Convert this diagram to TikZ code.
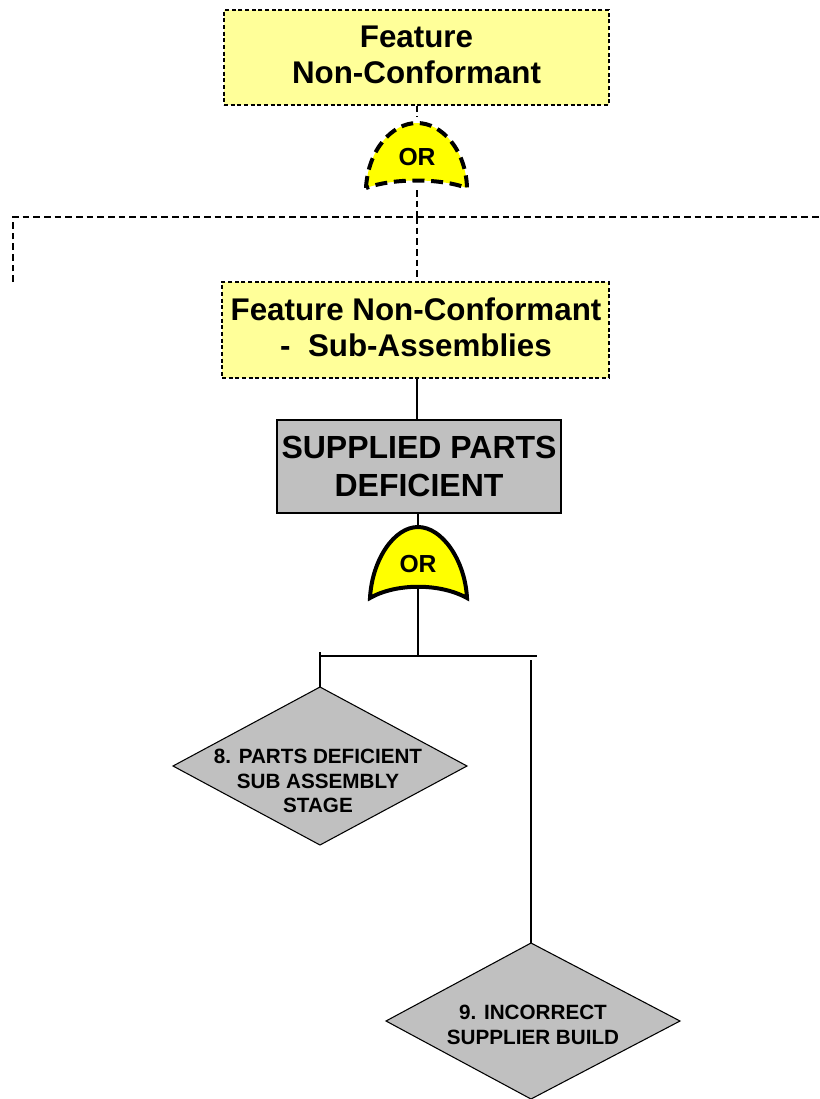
\documentclass[tikz,border=0pt]{standalone}
\usepackage{fontspec}
\setmainfont{Liberation Sans}
\definecolor{lyel}{HTML}{FFFF99}
\definecolor{gyel}{HTML}{FFFF00}
\definecolor{gr}{HTML}{C0C0C0}
\begin{document}
\begin{tikzpicture}[x=0.75pt,y=-0.75pt,
  ybox/.style={draw,fill=lyel,line width=0.8pt,dash pattern=on 3pt off 2pt,inner sep=0pt,font=\bfseries\fontsize{23.5}{27}\selectfont,align=center},
  gbox/.style={draw,fill=gr,line width=0.8pt,inner sep=0pt,font=\bfseries\fontsize{24}{28}\selectfont,align=center},
  diashape/.style={draw,fill=gr,line width=0.8pt},
  diatext/.style={inner sep=0pt,font=\bfseries\fontsize{15.5}{18.4}\selectfont,align=center},
  ortext/.style={inner sep=0pt,font=\bfseries\fontsize{18.5}{20}\selectfont},
  conn/.style={line width=1.1pt},
  dconn/.style={line width=1.1pt,dash pattern=on 5pt off 3pt},
  gate/.style={line width=3pt,fill=gyel}]
\useasboundingbox (0,0) rectangle (820,1099);
% top box
\node[ybox,minimum width=385*0.75pt,minimum height=95*0.75pt] (top) at (416.5,57.5) {};
\node[ybox,draw=none,fill=none] (toptext) at (416.5,55) {Feature\\Non-Conformant};
% dashed gate
\draw[gate,dash pattern=on 9pt off 5pt] (366,188) .. controls (368,150) and (392,123) .. (417,123) .. controls (442,123) and (466,150) .. (467,188) .. controls (440,178) and (393,178) .. cycle;
\node[ortext] (or1) at (417,157) {OR};
\coordinate (g1t) at (417,117);
\coordinate (g1b) at (417,190);
\draw[dconn] (top.south -| g1t) -- (g1t);
\coordinate (hl) at (13,217);
\coordinate (hr) at (820,217);
\coordinate (hm) at (417,217);
\coordinate (ll) at (13,282);
\draw[dconn] (g1b) -- (hm);
\draw[dconn] (ll) -- (hl) -- (hr);
% box 2
\node[ybox,minimum width=387*0.75pt,minimum height=96*0.75pt] (sub) at (415.5,330) {};
\node[ybox,draw=none,fill=none] (subtext) at (416,327) {Feature Non-Conformant\\-\ \ Sub-Assemblies};
\draw[dconn] (hm) -- (sub.north -| hm);
% box 3
\node[gbox,minimum width=284*0.75pt,minimum height=93*0.75pt] (sup) at (419,466.5) {SUPPLIED PARTS\\DEFICIENT};
\draw[conn] (sub.south -| hm) -- (sup.north -| hm);
% solid gate
\draw[gate] (370,598) .. controls (372,560) and (394,527) .. (418,527) .. controls (442,527) and (465,560) .. (467,598) .. controls (440,583) and (396,583) .. cycle;
\node[ortext] (or2) at (418,564) {OR};
\coordinate (g2t) at (418,527);
\coordinate (g2b) at (418,588);
\draw[conn] (sup.south -| g2t) -- (g2t);
\coordinate (bm) at (418,656);
\coordinate (bl) at (320,656);
\coordinate (br) at (537,656);
\draw[conn] (g2b) -- (bm);
\draw[conn] (bl) -- (br);
% diamonds
\coordinate (d8n) at (320,687);
\draw[diashape] (d8n) -- (467,766) -- (320,845) -- (173,766) -- cycle;
\node[diatext] (d8) at (318,781) {8. PARTS DEFICIENT\\SUB ASSEMBLY\\STAGE};
\coordinate (d9n) at (531,943);
\draw[diashape] (d9n) -- (680,1021) -- (531,1099) -- (386,1021) -- cycle;
\node[diatext] (d9) at (533,1025) {9. INCORRECT\\SUPPLIER BUILD};
\coordinate (bl0) at (320,652);
\coordinate (r0) at (531,660);
\draw[conn] (bl0) -- (d8n);
\draw[conn] (r0) -- (d9n);
\end{tikzpicture}
\end{document}
